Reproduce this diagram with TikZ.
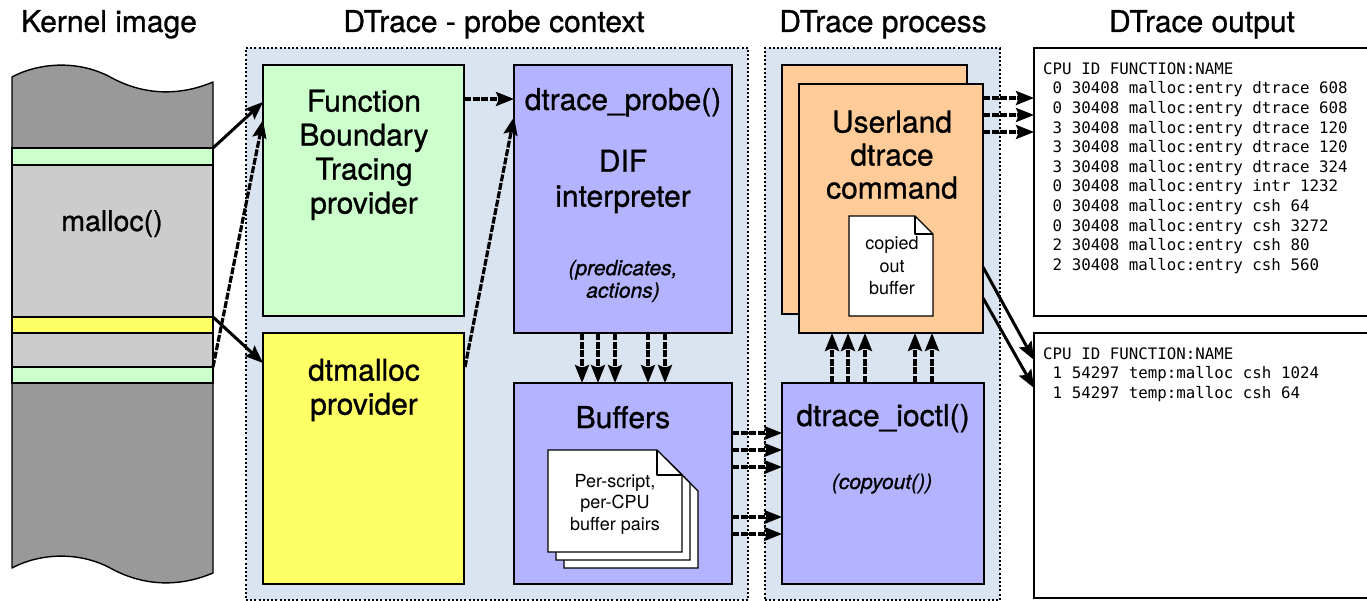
\documentclass[tikz,border=0pt]{standalone}
\usepackage{fontspec}
\setmainfont{TeX Gyre Heros}
\setmonofont{DejaVu Sans Mono}
\newfontfamily\medf{TeX Gyre Heros}[FakeBold=0.9]
\usetikzlibrary{arrows.meta,calc}
\definecolor{ctx}{HTML}{DAE3F0}
\definecolor{kdark}{HTML}{999999}
\definecolor{klight}{HTML}{CCCCCC}
\definecolor{kgreen}{HTML}{CCFFCC}
\definecolor{kyellow}{HTML}{FFFF66}
\definecolor{purp}{HTML}{B3B3FF}
\definecolor{orng}{HTML}{FFCC99}
\newcommand\dtbackpage[4]{%
  \filldraw[fill=white, line width=1.2pt] (#1,#2) -- ({#1+#3-25},#2) -- ({#1+#3},{#2+25}) -- ({#1+#3},{#2+#4}) -- (#1,{#2+#4}) -- cycle;}
\newcommand\dtfrontpage[5]{%
  \filldraw[fill=white, line width=1.2pt] (#1,#2) -- ({#1+#3-#5},#2) -- ({#1+#3},{#2+#5}) -- ({#1+#3},{#2+#4}) -- (#1,{#2+#4}) -- cycle;
  \draw[line width=1.2pt, line join=round] ({#1+#3-#5},#2) -- ({#1+#3-#5},{#2+#5}) -- ({#1+#3},{#2+#5});}
\begin{document}
\begin{tikzpicture}[x=1pt,y=-1pt,
  box/.style={draw=black, line width=1.3pt, inner sep=0pt, outer sep=0pt, anchor=north west},
  ctxbox/.style={draw=black, line width=1.2pt, dash pattern=on 2pt off 2.2pt, fill=ctx, inner sep=0pt, outer sep=0pt, anchor=north west},
  big/.style={font=\medf\fontsize{30}{34}\selectfont, inner sep=0pt, align=center},
  ttl/.style={font=\medf\fontsize{30}{34}\selectfont, inner sep=0pt, anchor=base},
  ital/.style={font=\medf\fontsize{21}{22.5}\selectfont\itshape, inner sep=0pt, align=center},
  small/.style={font=\fontsize{18}{21.5}\selectfont, inner sep=0pt, align=center},
  mono/.style={font=\fontsize{15.8}{19.6}\selectfont\ttfamily, inner sep=0pt, align=left, anchor=north west},
  arr/.style={line width=3.2pt, dash pattern=on 7pt off 1.6pt, -{Stealth[length=18pt,width=14pt,inset=3pt]}},
  arrs/.style={line width=3pt, -{Stealth[length=18pt,width=14pt,inset=3pt]}}]
\useasboundingbox (0,0) rectangle (1367,601);
\fill[white] (0,0) rectangle (1367,601);

% titles
\node[ttl] (t1) at (109,32) {Kernel image};
\node[ttl] (t2) at (494,32) {DTrace - probe context};
\node[ttl] (t3) at (883,32) {DTrace process};
\node[ttl] (t4) at (1202,32) {DTrace output};

% kernel image
\fill[kdark] (12,77) .. controls (40,62) and (80,60) .. (112,78) .. controls (140,93) and (175,98) .. (213,82)
  -- (213,573) .. controls (175,589) and (140,584) .. (112,569) .. controls (80,551) and (40,553) .. (12,568) -- cycle;
\filldraw[fill=kgreen, line width=1.3pt] (12,148) rectangle (213,165);
\filldraw[fill=klight, line width=1.3pt] (12,165) rectangle (213,317);
\filldraw[fill=kyellow, line width=1.3pt] (12,317) rectangle (213,333);
\filldraw[fill=klight, line width=1.3pt] (12,333) rectangle (213,367);
\filldraw[fill=kgreen, line width=1.3pt] (12,367) rectangle (213,383);
\draw[line width=1.4pt, line join=round] (12,77) .. controls (40,62) and (80,60) .. (112,78) .. controls (140,93) and (175,98) .. (213,82)
  -- (213,573) .. controls (175,589) and (140,584) .. (112,569) .. controls (80,551) and (40,553) .. (12,568) -- cycle;
\node[font=\medf\fontsize{28.5}{34}\selectfont, inner sep=0pt, anchor=base] (malloc) at (112,231) {malloc()};
\coordinate (k1) at (213,148);
\coordinate (k2) at (213,317);
\coordinate (k3) at (213,367);

% containers
\node[ctxbox, minimum width=502pt, minimum height=552pt] (ctx1) at (246,48) {};
\node[ctxbox, minimum width=235pt, minimum height=552pt] (ctx2) at (765,48) {};

% probe context boxes
\node[box, fill=kgreen, minimum width=201pt, minimum height=251pt] (fbt) at (263,65) {};
\node[box, fill=kyellow, minimum width=201pt, minimum height=251pt] (dtm) at (263,333) {};
\node[box, fill=purp, minimum width=218pt, minimum height=268pt] (probe) at (514,65) {};
\node[box, fill=purp, minimum width=218pt, minimum height=201pt] (buf) at (514,383) {};

\node[big] (fbtt) at (364,154.9) {Function\\Boundary\\Tracing\\provider};
\node[big] (dtmt) at (364,390) {dtmalloc\\provider};
\node[big, anchor=base] (probet) at (623,110) {dtrace\_probe()};
\node[big, font=\medf\fontsize{30}{35}\selectfont] (dif) at (623,181.5) {DIF\\interpreter};
\node[ital] (pred) at (623,281) {(predicates,\\actions)};
\node[big, anchor=base] (buft) at (623,428) {Buffers};

\dtbackpage{564}{466}{134}{102}
\dtbackpage{556}{458}{134}{102}
\dtfrontpage{548}{450}{134}{102}{25}
\node[small] (pcpu) at (615,504) {Per-script,\\per-CPU\\buffer pairs};

% process boxes
\node[box, fill=orng, minimum width=185pt, minimum height=249pt] (ub) at (782,65) {};
\node[box, fill=orng, minimum width=184pt, minimum height=249pt] (uf) at (799,84) {};
\node[big, font=\medf\fontsize{30}{33}\selectfont] (ut) at (892,154.8) {Userland\\dtrace\\command};
\dtfrontpage{849}{216}{84}{100}{18}
\node[small, font=\fontsize{18}{22.5}\selectfont] (cob) at (892,266) {copied\\out\\buffer};
\node[box, fill=purp, minimum width=202pt, minimum height=201pt] (ioctl) at (782,383) {};
\node[big, anchor=base] (ioctlt) at (883,426) {dtrace\_ioctl()};
\node[ital, anchor=base] (copyout) at (882,489) {(copyout())};

% output boxes
\node[box, fill=white, minimum width=360pt, minimum height=268pt] (out1) at (1034,48) {};
\node[box, fill=white, minimum width=360pt, minimum height=265pt] (out2) at (1034,333) {};
\node[mono] (o1t) at (1043,62.3) {CPU ID FUNCTION:NAME\\
\phantom{0}0 30408 malloc:entry dtrace 608\\
\phantom{0}0 30408 malloc:entry dtrace 608\\
\phantom{0}3 30408 malloc:entry dtrace 120\\
\phantom{0}3 30408 malloc:entry dtrace 120\\
\phantom{0}3 30408 malloc:entry dtrace 324\\
\phantom{0}0 30408 malloc:entry intr 1232\\
\phantom{0}0 30408 malloc:entry csh 64\\
\phantom{0}0 30408 malloc:entry csh 3272\\
\phantom{0}2 30408 malloc:entry csh 80\\
\phantom{0}2 30408 malloc:entry csh 560};
\node[mono] (o2t) at (1043,347.3) {CPU ID FUNCTION:NAME\\
\phantom{0}1 54297 temp:malloc csh 1024\\
\phantom{0}1 54297 temp:malloc csh 64};

% kernel -> providers
\draw[arrs] (k1) -- ($(fbt.north west)+(0,37)$);
\draw[arr] (k3) -- ($(fbt.north west)+(0,55)$);
\draw[arrs] (k2) -- ($(dtm.north west)+(0,30)$);

% providers -> probe
\draw[arr] ($(fbt.north east)+(0,34)$) -- ($(probe.north west)+(0,34)$);
\draw[arr] ($(dtm.north east)+(1,34)$) -- ($(probe.north west)+(0,52)$);

% probe -> buffers
\foreach \dx in {68,84,101,134,151}
  \draw[arr] ($(probe.south west)+(\dx,0)$) -- ($(buf.north west)+(\dx,0)$);

% buffers -> ioctl
\foreach \dy in {50,67,84,134,151}
  \draw[arr] ($(buf.north east)+(0,\dy)$) -- ($(ioctl.north west)+(0,\dy)$);

% ioctl -> userland
\foreach \dx in {50,66,83,133,150}
  \draw[arr] ($(ioctl.north west)+(\dx,0)$) -- ($(ioctl.north west)+(\dx,-50)$);

% userland -> outputs
\foreach \dy in {14,31,48}
  \draw[arr] ($(uf.north east)+(0,\dy)$) -- ($(out1.north west)+(0,{\dy+36})$);
\draw[arrs] ($(uf.north east)+(0,183)$) -- ($(out2.north west)+(0,27)$);
\draw[arrs] ($(uf.north east)+(0,214)$) -- ($(out2.north west)+(0,55)$);
\end{tikzpicture}
\end{document}
